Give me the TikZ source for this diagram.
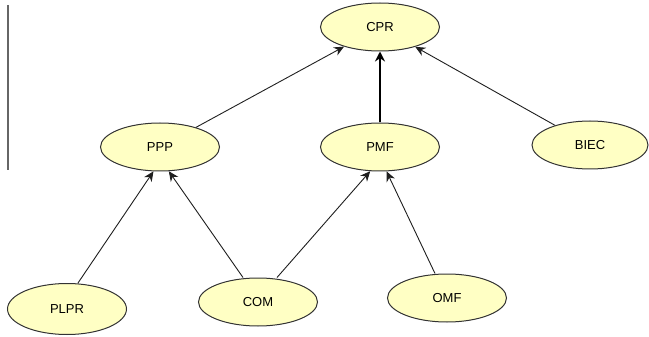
\documentclass[tikz,border=0pt]{standalone}
\usepackage{fontspec}
\setmainfont{Liberation Sans}
\usetikzlibrary{shapes.geometric,arrows.meta}
\definecolor{nodefill}{RGB}{255,255,196}
\definecolor{edgegray}{RGB}{30,30,30}
\tikzset{
  bn/.style={ellipse, draw=black!80, line width=1pt, fill=nodefill, minimum width=119pt, minimum height=48pt, inner sep=0pt, font=\fontsize{13}{15}\selectfont},
  link/.style={draw=edgegray, line width=0.9pt, -{Stealth[length=10pt,width=9pt]}},
  thicklink/.style={draw=black, line width=2pt, -{Stealth[length=10pt,width=10pt]}}
}
\begin{document}
\begin{tikzpicture}[x=1pt,y=-1pt]
\useasboundingbox (0,0) rectangle (649,337);
\draw[black!60, line width=1.4pt] (8,5) -- (8,170);
\node[bn] (cpr) at (380,27) {CPR};
\node[bn] (ppp) at (160,147) {PPP};
\node[bn] (pmf) at (380,147) {PMF};
\node[bn, minimum width=116pt] (biec) at (590,145) {BIEC};
\node[bn, minimum height=51pt] (plpr) at (67,309) {PLPR};
\node[bn] (com) at (258,302) {COM};
\node[bn] (omf) at (447,298) {OMF};
\draw[link] (ppp) -- (cpr);
\draw[thicklink] (pmf) -- (cpr);
\draw[link] (biec) -- (cpr);
\draw[link] (plpr.north) ++(11,0) coordinate (plprs) (plprs) -- (ppp.-105);
\draw[link] (com.north) ++(-15,0) coordinate (coml) (coml) -- (ppp.-70);
\draw[link] (com.north) ++(19,0) coordinate (comr) (comr) -- (pmf.-112);
\draw[link] (omf.north) ++(-12,0) coordinate (omfl) (omfl) -- (pmf.-75);
\end{tikzpicture}
\end{document}
